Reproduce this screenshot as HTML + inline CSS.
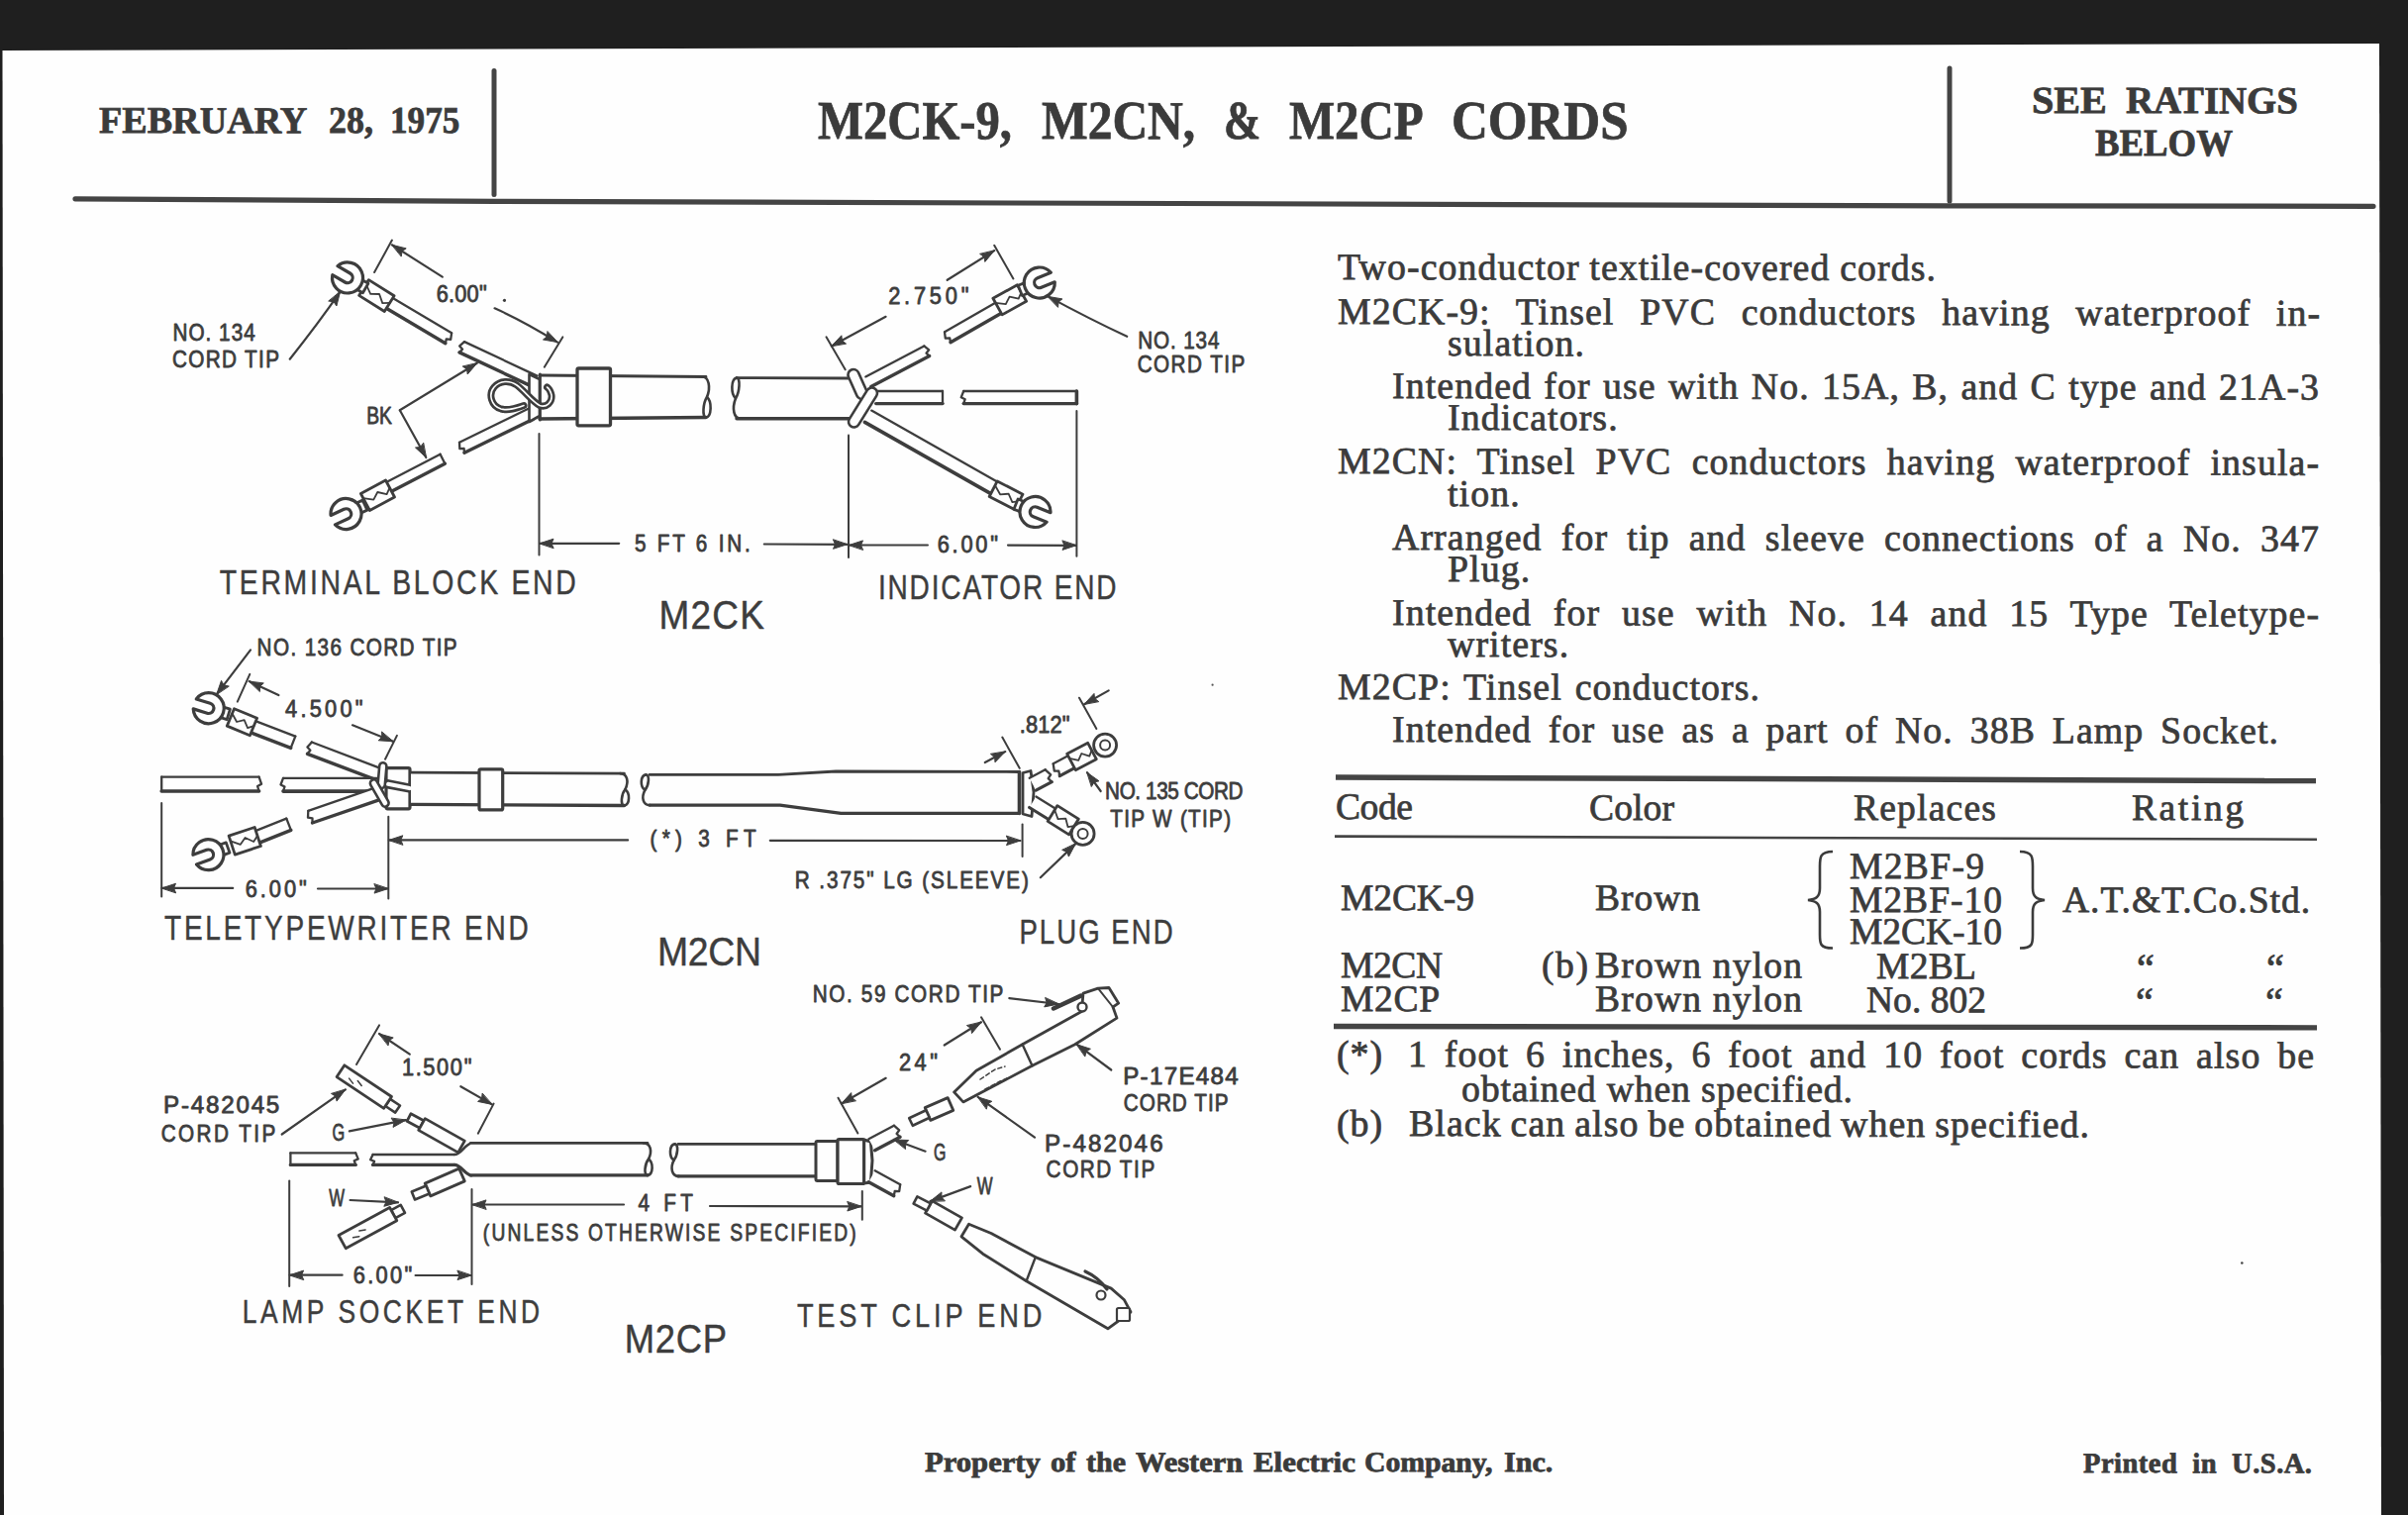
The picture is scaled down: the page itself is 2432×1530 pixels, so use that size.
<!DOCTYPE html>
<html><head><meta charset="utf-8"><style>
html,body{margin:0;padding:0;}
body{width:2432px;height:1530px;position:relative;overflow:hidden;background:#fefefe;}
.t{position:absolute;white-space:pre;line-height:1;font-family:"Liberation Serif",serif;color:#3b3b3b;transform:rotate(0.1deg);transform-origin:0 85%;-webkit-text-stroke:0.75px #3b3b3b;}
svg{position:absolute;left:0;top:0;}
</style></head><body>
<svg width="2432" height="1530" viewBox="0 0 2432 1530">
<g fill="#1f1f1f" stroke="none">
<polygon points="0,0 2432,0 2432,43 2403,43 2403,44 0,51"/>
<polygon points="2403,43 2432,43 2432,1530 2405,1530"/>
<polygon points="0,50 2.5,50 4,1530 0,1530"/>
</g>
<g stroke="#444" stroke-linecap="round" fill="none">
<polyline points="76,200.8 500,203.4 1969,207.9 2397,208.3" stroke-width="5.2"/>
<line x1="499" y1="71.5" x2="499" y2="196.5" stroke-width="5"/>
<line x1="1969" y1="69" x2="1969" y2="203" stroke-width="5"/>
<line x1="1349" y1="785" x2="2339" y2="788.6" stroke-width="5.5" stroke-linecap="butt"/>
<line x1="1348" y1="844.6" x2="2340" y2="847.7" stroke-width="2.6" stroke-linecap="butt"/>
<line x1="1347" y1="1036.5" x2="2340" y2="1037.8" stroke-width="5.3" stroke-linecap="butt"/>
</g>
<g stroke="#3b3b3b" fill="none" stroke-width="2.6">
<path d="M1851,860 C1838,860 1838,866 1838,875 L1838,897 C1838,906 1834,908 1826,909 C1834,910 1838,912 1838,921 L1838,944 C1838,953 1838,957.5 1851,957.5"/>
<path d="M2040,860 C2053,860 2053,866 2053,875 L2053,897 C2053,906 2057,908 2065,909 C2057,910 2053,912 2053,921 L2053,944 C2053,953 2053,957.5 2040,957.5"/>
</g>
<g stroke="#3d3d3d" fill="none" stroke-linecap="round" stroke-linejoin="round">
<polygon points="390.9,311.7 449.9,346.7 456.1,336.3 397.1,301.3" fill="#fefefe" stroke="none"/>
<line x1="390.9" y1="311.7" x2="449.9" y2="346.7" stroke-width="3.4" stroke-linecap="round"/>
<line x1="397.1" y1="301.3" x2="456.1" y2="336.3" stroke-width="2.3" stroke-linecap="round"/>
<polyline points="449.9,346.7 450.8,342.3 455.2,342.8 456.1,336.3" stroke-width="2.3" fill="none" stroke-linejoin="round"/>
<polygon points="362.6,298.4 388.3,314.5 398.1,298.7 372.4,282.6" stroke-width="2.8" fill="#fefefe" stroke-linejoin="round"/>
<polyline points="369.7,287.0 374.2,296.9 383.1,297.0 386.3,306.1 393.7,305.8" stroke-width="1.8" fill="none" stroke-linejoin="round"/>
<path transform="translate(351.0,280.5) rotate(210.0)" d="M-12.5,-5.5 L-21.0,-5.5 L-21.0,5.5 L-12.5,5.5" stroke-width="2.8000000000000003" fill="#fefefe" stroke-linejoin="round"/>
<path transform="translate(351.0,280.5) rotate(210.0)" d="M14.6,-5.2 A15.5,15.5 0 1 0 14.6,5.2 L0.0,5.2 A5.2,5.2 0 0 1 0.0,-5.2 Z" stroke-width="3.2" fill="#fefefe" stroke-linejoin="round"/>
<polygon points="464.0,355.9 537.5,390.4 542.5,379.6 469.0,345.1" fill="#fefefe" stroke="none"/>
<line x1="464.0" y1="355.9" x2="537.5" y2="390.4" stroke-width="3.4" stroke-linecap="round"/>
<line x1="469.0" y1="345.1" x2="542.5" y2="379.6" stroke-width="2.3" stroke-linecap="round"/>
<polyline points="464.0,355.9 467.1,352.8 464.2,349.4 469.0,345.1" stroke-width="2.3" fill="none" stroke-linejoin="round"/>
<polygon points="396.4,495.7 449.4,468.2 444.6,458.8 391.6,486.3" fill="#fefefe" stroke="none"/>
<line x1="396.4" y1="495.7" x2="449.4" y2="468.2" stroke-width="3.4" stroke-linecap="round"/>
<line x1="391.6" y1="486.3" x2="444.6" y2="458.8" stroke-width="2.3" stroke-linecap="round"/>
<line x1="449.4" y1="468.2" x2="444.6" y2="458.8" stroke-width="2.3" stroke-linecap="round"/>
<polygon points="373.4,515.5 398.5,502.0 389.5,485.0 364.4,498.5" stroke-width="2.8" fill="#fefefe" stroke-linejoin="round"/>
<polyline points="366.9,503.2 377.3,504.6 381.3,497.0 390.6,499.2 393.5,492.7" stroke-width="1.8" fill="none" stroke-linejoin="round"/>
<path transform="translate(349.5,519.0) rotate(155.0)" d="M-12.5,-5.5 L-21.0,-5.5 L-21.0,5.5 L-12.5,5.5" stroke-width="2.8000000000000003" fill="#fefefe" stroke-linejoin="round"/>
<path transform="translate(349.5,519.0) rotate(155.0)" d="M14.6,-5.2 A15.5,15.5 0 1 0 14.6,5.2 L0.0,5.2 A5.2,5.2 0 0 1 0.0,-5.2 Z" stroke-width="3.2" fill="#fefefe" stroke-linejoin="round"/>
<polygon points="469.0,457.2 538.5,423.2 533.5,412.8 464.0,446.8" fill="#fefefe" stroke="none"/>
<line x1="469.0" y1="457.2" x2="538.5" y2="423.2" stroke-width="3.4" stroke-linecap="round"/>
<line x1="464.0" y1="446.8" x2="533.5" y2="412.8" stroke-width="2.3" stroke-linecap="round"/>
<polyline points="469.0,457.2 468.6,452.9 464.3,453.1 464.0,446.8" stroke-width="2.3" fill="none" stroke-linejoin="round"/>
<polygon points="534.5,378.0 545.0,383.0 545.0,420.0 534.5,426.0" stroke-width="2.6" fill="#fefefe" stroke-linejoin="round"/>
<rect x="545" y="379" width="168" height="43" fill="#fefefe" stroke="none"/>
<line x1="545.0" y1="379.0" x2="713.0" y2="380.5" stroke-width="2.8" stroke-linecap="round"/>
<line x1="545.0" y1="423.0" x2="713.0" y2="421.5" stroke-width="3.4" stroke-linecap="round"/>
<line x1="545.4" y1="378.0" x2="545.4" y2="424.0" stroke-width="3" stroke-linecap="round"/>
<path d="M709.0,380.5 C716.0,380.5 718.0,390.8 714.0,401.0 C710.0,407.1 709.0,421.5 713.0,421.5" stroke-width="2.6" fill="none" />
<path d="M714.0,401.0 C719.0,405.1 719.0,420.5 713.0,421.5" stroke-width="2.6" fill="none" />
<rect x="583.0" y="372.0" width="33.5" height="57.8" rx="1.5" stroke-width="3.3" fill="#fefefe"/>
<path d="M529,409.5 C522,412 514,415 506,413 C496,410 493,398 499,391 C505,384 515,384 522,389 C530,395 537,405 545,409.5 C552,412 558,406 557,399 C556,395 554,392 552.5,391" stroke-width="7" fill="none"/>
<path d="M529,409.5 C522,412 514,415 506,413 C496,410 493,398 499,391 C505,384 515,384 522,389 C530,395 537,405 545,409.5 C552,412 558,406 557,399 C556,395 554,392 552.5,391" stroke="#fefefe" stroke-width="1.6" fill="none"/>
<rect x="744" y="381.5" width="114" height="41" fill="#fefefe" stroke="none"/>
<line x1="744.0" y1="381.6" x2="858.0" y2="382.0" stroke-width="2.8" stroke-linecap="round"/>
<line x1="744.0" y1="422.8" x2="858.0" y2="422.8" stroke-width="3.4" stroke-linecap="round"/>
<path d="M744.0,381.6 C738.0,382.6 738.0,398.1 743.0,402.2" stroke-width="2.6" fill="none" />
<path d="M744.0,381.6 C748.0,381.6 747.0,396.0 743.0,402.2 C739.0,412.5 741.0,422.8 748.0,422.8" stroke-width="2.6" fill="none" />
<line x1="378.1" y1="275.0" x2="395.9" y2="242.6" stroke-width="2" stroke-linecap="round"/>
<polyline points="446.8,279.6 395.9,247.3" stroke-width="2.2" fill="none" stroke-linejoin="round"/>
<polygon points="395.9,247.3 410.2,250.9 406.0,253.7 405.3,258.7" fill="#3d3d3d" stroke="#3d3d3d" stroke-width="1" stroke-linejoin="round"/>
<text transform="translate(440.8,304.7) scale(0.9500,1)" x="0" y="0" font-family="Liberation Sans" font-size="23" font-weight="400" fill="#3d3d3d" stroke="#3d3d3d" stroke-width="0.8" stroke-linejoin="round" style="letter-spacing:0.16px">6.00&quot;</text>
<circle cx="509.5" cy="303.3" r="1.6" fill="#3d3d3d" stroke="none"/>
<path d="M499.6,311.3 Q530,325 563,345.6" stroke-width="2.2" fill="none" />
<polygon points="563.0,345.6 548.5,343.0 552.4,339.9 552.9,334.9" fill="#3d3d3d" stroke="#3d3d3d" stroke-width="1" stroke-linejoin="round"/>
<line x1="549.8" y1="370.7" x2="568.3" y2="340.4" stroke-width="2" stroke-linecap="round"/>
<text transform="translate(174.5,343.6) scale(0.9000,1)" x="0" y="0" font-family="Liberation Sans" font-size="23" font-weight="400" fill="#3d3d3d" stroke="#3d3d3d" stroke-width="0.8" stroke-linejoin="round" style="letter-spacing:1.13px">NO. 134</text>
<text transform="translate(174.0,370.6) scale(0.9000,1)" x="0" y="0" font-family="Liberation Sans" font-size="23" font-weight="400" fill="#3d3d3d" stroke="#3d3d3d" stroke-width="0.8" stroke-linejoin="round" style="letter-spacing:1.50px">CORD TIP</text>
<path d="M292.7,362.7 Q322,326 343.5,294.7" stroke-width="2.2" fill="none" />
<polygon points="343.5,294.7 339.9,309.0 337.1,304.8 332.1,304.1" fill="#3d3d3d" stroke="#3d3d3d" stroke-width="1" stroke-linejoin="round"/>
<text transform="translate(370.2,427.5) scale(0.8375,1)" x="0" y="0" font-family="Liberation Sans" font-size="23" font-weight="400" fill="#3d3d3d" stroke="#3d3d3d" stroke-width="0.8" stroke-linejoin="round" style="letter-spacing:0.00px">BK</text>
<polyline points="403.8,414.3 481.8,366.8" stroke-width="2.2" fill="none" stroke-linejoin="round"/>
<polygon points="481.8,366.8 472.2,378.0 471.6,373.0 467.5,370.2" fill="#3d3d3d" stroke="#3d3d3d" stroke-width="1" stroke-linejoin="round"/>
<polyline points="403.8,414.3 430.3,462.0" stroke-width="2.2" fill="none" stroke-linejoin="round"/>
<polygon points="430.3,462.0 419.5,452.0 424.5,451.5 427.5,447.5" fill="#3d3d3d" stroke="#3d3d3d" stroke-width="1" stroke-linejoin="round"/>
<line x1="544.5" y1="438.0" x2="544.5" y2="560.4" stroke-width="2" stroke-linecap="round"/>
<polyline points="625.2,548.8 545.0,548.8" stroke-width="2.2" fill="none" stroke-linejoin="round"/>
<polygon points="545.0,548.8 559.0,544.2 557.0,548.8 559.0,553.4" fill="#3d3d3d" stroke="#3d3d3d" stroke-width="1" stroke-linejoin="round"/>
<text transform="translate(641.0,556.5) scale(0.9000,1)" x="0" y="0" font-family="Liberation Sans" font-size="23" font-weight="400" fill="#3d3d3d" stroke="#3d3d3d" stroke-width="0.8" stroke-linejoin="round" style="letter-spacing:3.09px">5 FT 6 IN.</text>
<polyline points="771.8,549.5 855.5,549.8" stroke-width="2.2" fill="none" stroke-linejoin="round"/>
<polygon points="855.5,549.8 841.5,554.3 843.5,549.8 841.5,545.1" fill="#3d3d3d" stroke="#3d3d3d" stroke-width="1" stroke-linejoin="round"/>
<line x1="857.0" y1="439.6" x2="857.0" y2="563.0" stroke-width="2" stroke-linecap="round"/>
<polygon points="873.4,426.4 999.9,498.1 1006.7,486.3 880.2,414.6" fill="#fefefe" stroke="none"/>
<line x1="873.4" y1="426.4" x2="999.9" y2="498.1" stroke-width="3.6" stroke-linecap="round"/>
<line x1="880.2" y1="414.6" x2="1006.7" y2="486.3" stroke-width="2.3" stroke-linecap="round"/>
<polygon points="999.2,501.5 1025.0,514.8 1033.0,499.2 1007.2,485.9" stroke-width="2.8" fill="#fefefe" stroke-linejoin="round"/>
<polyline points="1005.0,490.2 1010.1,499.3 1018.6,498.7 1022.4,507.1 1029.4,506.2" stroke-width="1.8" fill="none" stroke-linejoin="round"/>
<path transform="translate(1045.5,517.0) rotate(22.0)" d="M-12.5,-5.5 L-21.0,-5.5 L-21.0,5.5 L-12.5,5.5" stroke-width="2.8000000000000003" fill="#fefefe" stroke-linejoin="round"/>
<path transform="translate(1045.5,517.0) rotate(22.0)" d="M14.6,-5.2 A15.5,15.5 0 1 0 14.6,5.2 L0.0,5.2 A5.2,5.2 0 0 1 0.0,-5.2 Z" stroke-width="3.2" fill="#fefefe" stroke-linejoin="round"/>
<polygon points="879.7,390.6 938.7,359.6 933.3,349.4 874.3,380.4" fill="#fefefe" stroke="none"/>
<line x1="879.7" y1="390.6" x2="938.7" y2="359.6" stroke-width="3.4" stroke-linecap="round"/>
<line x1="874.3" y1="380.4" x2="933.3" y2="349.4" stroke-width="2.3" stroke-linecap="round"/>
<polyline points="938.7,359.6 935.5,356.7 938.2,353.3 933.3,349.4" stroke-width="2.3" fill="none" stroke-linejoin="round"/>
<polygon points="960.0,345.7 1010.5,316.7 1004.5,306.3 954.0,335.3" fill="#fefefe" stroke="none"/>
<line x1="960.0" y1="345.7" x2="1010.5" y2="316.7" stroke-width="3.4" stroke-linecap="round"/>
<line x1="954.0" y1="335.3" x2="1004.5" y2="306.3" stroke-width="2.3" stroke-linecap="round"/>
<polyline points="960.0,345.7 959.2,341.3 954.8,341.7 954.0,335.3" stroke-width="2.3" fill="none" stroke-linejoin="round"/>
<polygon points="1012.1,317.9 1036.6,304.3 1027.4,287.7 1002.9,301.3" stroke-width="2.8" fill="#fefefe" stroke-linejoin="round"/>
<polyline points="1005.4,305.9 1015.8,307.2 1019.6,299.6 1028.7,301.6 1031.5,295.2" stroke-width="1.8" fill="none" stroke-linejoin="round"/>
<path transform="translate(1049.8,285.5) rotate(-22.0)" d="M-12.5,-5.5 L-21.0,-5.5 L-21.0,5.5 L-12.5,5.5" stroke-width="2.8000000000000003" fill="#fefefe" stroke-linejoin="round"/>
<path transform="translate(1049.8,285.5) rotate(-22.0)" d="M14.6,-5.2 A15.5,15.5 0 1 0 14.6,5.2 L0.0,5.2 A5.2,5.2 0 0 1 0.0,-5.2 Z" stroke-width="3.2" fill="#fefefe" stroke-linejoin="round"/>
<polygon points="884.7,407.6 952.0,407.6 952.0,395.0 884.7,395.0" fill="#fefefe" stroke="none"/>
<line x1="884.7" y1="407.6" x2="952.0" y2="407.6" stroke-width="3.4" stroke-linecap="round"/>
<line x1="884.7" y1="395.0" x2="952.0" y2="395.0" stroke-width="2.3" stroke-linecap="round"/>
<line x1="952.0" y1="407.6" x2="952.0" y2="395.0" stroke-width="2.3" stroke-linecap="round"/>
<polygon points="973.2,407.6 1087.4,407.6 1087.4,395.0 973.2,395.0" fill="#fefefe" stroke="none"/>
<line x1="973.2" y1="407.6" x2="1087.4" y2="407.6" stroke-width="3.4" stroke-linecap="round"/>
<line x1="973.2" y1="395.0" x2="1087.4" y2="395.0" stroke-width="2.3" stroke-linecap="round"/>
<polyline points="973.2,407.6 974.7,403.2 970.7,401.3 973.2,395.0" stroke-width="2.3" fill="none" stroke-linejoin="round"/>
<line x1="1087.4" y1="407.6" x2="1087.4" y2="395.0" stroke-width="2.3" stroke-linecap="round"/>
<line x1="1087.4" y1="395.0" x2="1087.4" y2="407.6" stroke-width="3.6" stroke-linecap="round"/>
<line x1="862.0" y1="378.5" x2="870.5" y2="397.5" stroke-width="13.6" stroke-linecap="round"/>
<line x1="862.0" y1="378.5" x2="870.5" y2="397.5" stroke="#fefefe" stroke-width="8.4" stroke-linecap="round"/>
<line x1="880.5" y1="397.0" x2="862.5" y2="426.0" stroke-width="13.6" stroke-linecap="round"/>
<line x1="880.5" y1="397.0" x2="862.5" y2="426.0" stroke="#fefefe" stroke-width="8.4" stroke-linecap="round"/>
<line x1="834.5" y1="340.3" x2="853.7" y2="373.3" stroke-width="2" stroke-linecap="round"/>
<polyline points="894.6,319.8 839.8,349.5" stroke-width="2.2" fill="none" stroke-linejoin="round"/>
<polygon points="839.8,349.5 849.9,338.8 850.4,343.8 854.3,346.9" fill="#3d3d3d" stroke="#3d3d3d" stroke-width="1" stroke-linejoin="round"/>
<text transform="translate(897.2,307.2) scale(0.9500,1)" x="0" y="0" font-family="Liberation Sans" font-size="23" font-weight="400" fill="#3d3d3d" stroke="#3d3d3d" stroke-width="0.8" stroke-linejoin="round" style="letter-spacing:3.97px">2.750&quot;</text>
<polyline points="956.7,282.8 1004.2,253.1" stroke-width="2.2" fill="none" stroke-linejoin="round"/>
<polygon points="1004.2,253.1 994.8,264.4 994.0,259.5 989.9,256.6" fill="#3d3d3d" stroke="#3d3d3d" stroke-width="1" stroke-linejoin="round"/>
<line x1="1004.2" y1="247.8" x2="1023.4" y2="281.5" stroke-width="2" stroke-linecap="round"/>
<text transform="translate(1149.2,352.2) scale(0.9000,1)" x="0" y="0" font-family="Liberation Sans" font-size="23" font-weight="400" fill="#3d3d3d" stroke="#3d3d3d" stroke-width="0.8" stroke-linejoin="round" style="letter-spacing:0.95px">NO. 134</text>
<text transform="translate(1148.7,376.1) scale(0.9000,1)" x="0" y="0" font-family="Liberation Sans" font-size="23" font-weight="400" fill="#3d3d3d" stroke="#3d3d3d" stroke-width="0.8" stroke-linejoin="round" style="letter-spacing:1.60px">CORD TIP</text>
<path d="M1138.2,339.8 Q1100,322 1058.4,299.4" stroke-width="2.2" fill="none" />
<polygon points="1058.4,299.4 1072.9,301.9 1069.0,305.0 1068.6,310.0" fill="#3d3d3d" stroke="#3d3d3d" stroke-width="1" stroke-linejoin="round"/>
<polyline points="936.9,550.5 857.5,550.5" stroke-width="2.2" fill="none" stroke-linejoin="round"/>
<polygon points="857.5,550.5 871.5,545.9 869.5,550.5 871.5,555.1" fill="#3d3d3d" stroke="#3d3d3d" stroke-width="1" stroke-linejoin="round"/>
<text transform="translate(946.7,557.8) scale(0.9500,1)" x="0" y="0" font-family="Liberation Sans" font-size="23" font-weight="400" fill="#3d3d3d" stroke="#3d3d3d" stroke-width="0.8" stroke-linejoin="round" style="letter-spacing:2.90px">6.00&quot;</text>
<polyline points="1018.0,550.6 1087.0,550.8" stroke-width="2.2" fill="none" stroke-linejoin="round"/>
<polygon points="1087.0,550.8 1073.0,555.4 1075.0,550.8 1073.0,546.2" fill="#3d3d3d" stroke="#3d3d3d" stroke-width="1" stroke-linejoin="round"/>
<line x1="1087.4" y1="415.0" x2="1087.4" y2="561.8" stroke-width="2" stroke-linecap="round"/>
<text transform="translate(221.8,600.1) scale(0.8000,1)" x="0" y="0" font-family="Liberation Sans" font-size="35.5" font-weight="400" fill="#3d3d3d" stroke="#3d3d3d" stroke-width="0.45" stroke-linejoin="round" style="letter-spacing:3.35px">TERMINAL BLOCK END</text>
<text transform="translate(886.9,605.2) scale(0.8000,1)" x="0" y="0" font-family="Liberation Sans" font-size="35" font-weight="400" fill="#3d3d3d" stroke="#3d3d3d" stroke-width="0.45" stroke-linejoin="round" style="letter-spacing:2.33px">INDICATOR END</text>
<text transform="translate(665.6,635.1) scale(0.9000,1)" x="0" y="0" font-family="Liberation Sans" font-size="41" font-weight="400" fill="#3d3d3d" stroke="#3d3d3d" stroke-width="0.45" stroke-linejoin="round" style="letter-spacing:1.36px">M2CK</text>
<text transform="translate(259.6,662.4) scale(0.9000,1)" x="0" y="0" font-family="Liberation Sans" font-size="23" font-weight="400" fill="#3d3d3d" stroke="#3d3d3d" stroke-width="0.8" stroke-linejoin="round" style="letter-spacing:1.53px">NO. 136 CORD TIP</text>
<polyline points="253.0,656.4 218.7,701.3" stroke-width="2.2" fill="none" stroke-linejoin="round"/>
<polygon points="218.7,701.3 223.5,687.4 226.0,691.8 230.9,693.0" fill="#3d3d3d" stroke="#3d3d3d" stroke-width="1" stroke-linejoin="round"/>
<polygon points="254.0,740.2 293.7,755.4 298.3,743.6 258.6,728.4" fill="#fefefe" stroke="none"/>
<line x1="254.0" y1="740.2" x2="293.7" y2="755.4" stroke-width="3.4" stroke-linecap="round"/>
<line x1="258.6" y1="728.4" x2="298.3" y2="743.6" stroke-width="2.3" stroke-linecap="round"/>
<line x1="293.7" y1="755.4" x2="298.3" y2="743.6" stroke-width="2.3" stroke-linecap="round"/>
<polygon points="229.3,733.1 252.4,742.7 259.6,725.3 236.5,715.7" stroke-width="2.8" fill="#fefefe" stroke-linejoin="round"/>
<polyline points="234.5,720.5 239.1,729.0 246.7,727.1 250.1,735.1 256.4,733.1" stroke-width="1.8" fill="none" stroke-linejoin="round"/>
<path transform="translate(210.7,715.2) rotate(197.0)" d="M-12.5,-5.5 L-21.0,-5.5 L-21.0,5.5 L-12.5,5.5" stroke-width="2.8000000000000003" fill="#fefefe" stroke-linejoin="round"/>
<path transform="translate(210.7,715.2) rotate(197.0)" d="M14.6,-5.2 A15.5,15.5 0 1 0 14.6,5.2 L0.0,5.2 A5.2,5.2 0 0 1 0.0,-5.2 Z" stroke-width="3.2" fill="#fefefe" stroke-linejoin="round"/>
<line x1="239.8" y1="708.6" x2="252.3" y2="680.8" stroke-width="2" stroke-linecap="round"/>
<polyline points="281.4,702.0 251.7,688.1" stroke-width="2.2" fill="none" stroke-linejoin="round"/>
<polygon points="251.7,688.1 266.3,689.9 262.6,693.2 262.4,698.2" fill="#3d3d3d" stroke="#3d3d3d" stroke-width="1" stroke-linejoin="round"/>
<text transform="translate(288.0,723.8) scale(0.9500,1)" x="0" y="0" font-family="Liberation Sans" font-size="23" font-weight="400" fill="#3d3d3d" stroke="#3d3d3d" stroke-width="0.8" stroke-linejoin="round" style="letter-spacing:3.40px">4.500&quot;</text>
<polyline points="356.0,732.3 396.9,748.8" stroke-width="2.2" fill="none" stroke-linejoin="round"/>
<polygon points="396.9,748.8 382.2,747.8 385.8,744.3 385.6,739.3" fill="#3d3d3d" stroke="#3d3d3d" stroke-width="1" stroke-linejoin="round"/>
<line x1="389.0" y1="766.7" x2="400.9" y2="742.9" stroke-width="2" stroke-linecap="round"/>
<polygon points="310.5,761.3 377.8,786.9 382.2,775.1 314.9,749.5" fill="#fefefe" stroke="none"/>
<line x1="310.5" y1="761.3" x2="377.8" y2="786.9" stroke-width="3.4" stroke-linecap="round"/>
<line x1="314.9" y1="749.5" x2="382.2" y2="775.1" stroke-width="2.3" stroke-linecap="round"/>
<polyline points="310.5,761.3 313.4,757.7 310.4,754.5 314.9,749.5" stroke-width="2.3" fill="none" stroke-linejoin="round"/>
<polygon points="163.2,799.0 261.6,799.0 261.6,784.6 163.2,784.6" fill="#fefefe" stroke="none"/>
<line x1="163.2" y1="799.0" x2="261.6" y2="799.0" stroke-width="3.6" stroke-linecap="round"/>
<line x1="163.2" y1="784.6" x2="261.6" y2="784.6" stroke-width="2.3" stroke-linecap="round"/>
<line x1="163.2" y1="799.0" x2="163.2" y2="784.6" stroke-width="2.3" stroke-linecap="round"/>
<polyline points="261.6,799.0 260.1,794.0 264.1,791.8 261.6,784.6" stroke-width="2.3" fill="none" stroke-linejoin="round"/>
<polygon points="286.0,799.1 382.0,799.1 382.0,785.9 286.0,785.9" fill="#fefefe" stroke="none"/>
<line x1="286.0" y1="799.1" x2="382.0" y2="799.1" stroke-width="3.6" stroke-linecap="round"/>
<line x1="286.0" y1="785.9" x2="382.0" y2="785.9" stroke-width="2.3" stroke-linecap="round"/>
<polyline points="286.0,799.1 287.5,794.5 283.5,792.5 286.0,785.9" stroke-width="2.3" fill="none" stroke-linejoin="round"/>
<polygon points="315.5,831.0 382.1,808.1 377.9,795.9 311.3,818.8" fill="#fefefe" stroke="none"/>
<line x1="315.5" y1="831.0" x2="382.1" y2="808.1" stroke-width="3.4" stroke-linecap="round"/>
<line x1="311.3" y1="818.8" x2="377.9" y2="795.9" stroke-width="2.3" stroke-linecap="round"/>
<polyline points="315.5,831.0 315.5,826.3 311.0,825.7 311.3,818.8" stroke-width="2.3" fill="none" stroke-linejoin="round"/>
<polygon points="289.3,826.6 258.0,839.1 262.6,850.9 293.9,838.4" fill="#fefefe" stroke="none"/>
<line x1="289.3" y1="826.6" x2="258.0" y2="839.1" stroke-width="2.3" stroke-linecap="round"/>
<line x1="293.9" y1="838.4" x2="262.6" y2="850.9" stroke-width="3.4" stroke-linecap="round"/>
<line x1="289.3" y1="826.6" x2="293.9" y2="838.4" stroke-width="2.3" stroke-linecap="round"/>
<polygon points="237.3,863.1 263.4,854.5 257.2,835.5 231.1,844.1" stroke-width="2.8" fill="#fefefe" stroke-linejoin="round"/>
<polyline points="232.8,849.3 242.7,852.9 247.6,846.0 256.2,850.0 260.0,844.1" stroke-width="1.8" fill="none" stroke-linejoin="round"/>
<path transform="translate(210.4,863.2) rotate(160.0)" d="M-12.5,-5.5 L-21.0,-5.5 L-21.0,5.5 L-12.5,5.5" stroke-width="2.8000000000000003" fill="#fefefe" stroke-linejoin="round"/>
<path transform="translate(210.4,863.2) rotate(160.0)" d="M14.6,-5.2 A15.5,15.5 0 1 0 14.6,5.2 L0.0,5.2 A5.2,5.2 0 0 1 0.0,-5.2 Z" stroke-width="3.2" fill="#fefefe" stroke-linejoin="round"/>
<rect x="390.0" y="775.7" width="24.0" height="41.1" rx="1.5" stroke-width="3.2" fill="#fefefe"/>
<path d="M414,790 Q419,793 414,799" stroke-width="3" fill="none" />
<line x1="392.0" y1="791.8" x2="413.5" y2="796.0" stroke-width="9.4" stroke-linecap="round"/>
<line x1="392.0" y1="791.8" x2="413.5" y2="796.0" stroke="#fefefe" stroke-width="4.199999999999999" stroke-linecap="round"/>
<line x1="386.8" y1="773.8" x2="385.2" y2="792.5" stroke-width="9.8" stroke-linecap="round"/>
<line x1="386.8" y1="773.8" x2="385.2" y2="792.5" stroke="#fefefe" stroke-width="4.6" stroke-linecap="round"/>
<line x1="377.5" y1="791.0" x2="389.0" y2="811.0" stroke-width="9.8" stroke-linecap="round"/>
<line x1="377.5" y1="791.0" x2="389.0" y2="811.0" stroke="#fefefe" stroke-width="4.6" stroke-linecap="round"/>
<rect x="415" y="780" width="215.4" height="32.6" fill="#fefefe" stroke="none"/>
<line x1="415.0" y1="780.1" x2="630.4" y2="781.1" stroke-width="2.8" stroke-linecap="round"/>
<line x1="415.0" y1="812.3" x2="630.4" y2="813.5" stroke-width="3.3" stroke-linecap="round"/>
<path d="M626.4,781.1 C633.4,781.1 635.4,789.2 631.4,797.3 C627.4,802.2 626.4,813.5 630.4,813.5" stroke-width="2.6" fill="none" />
<path d="M631.4,797.3 C636.4,800.5 636.4,812.5 630.4,813.5" stroke-width="2.6" fill="none" />
<rect x="484.0" y="776.8" width="23.7" height="41.1" rx="1.5" stroke-width="3.2" fill="#fefefe"/>
<polygon points="652.4,782.4 786,782.4 844.3,779 1028.7,779 1028.7,821.4 849.3,821.4 787.8,813.1 652.4,813.1" fill="#fefefe" stroke="none"/>
<polyline points="656.0,782.4 786.0,782.4 844.3,779.0 1028.7,779.5" stroke-width="2.8" fill="none" stroke-linejoin="round"/>
<polyline points="656.0,813.1 787.8,813.1 849.3,821.4 1028.7,821.4" stroke-width="3.3" fill="none" stroke-linejoin="round"/>
<path d="M652.4,782.4 C646.4,783.4 646.4,794.7 651.4,797.8" stroke-width="2.6" fill="none" />
<path d="M652.4,782.4 C656.4,782.4 655.4,793.1 651.4,797.8 C647.4,805.4 649.4,813.1 656.4,813.1" stroke-width="2.6" fill="none" />
<line x1="1029.5" y1="779.5" x2="1029.5" y2="821.4" stroke-width="3.6" stroke-linecap="round"/>
<polygon points="1033.0,780.5 1041.0,778.5 1044.0,800.0 1042.0,824.5 1033.0,822.0" stroke-width="2.8" fill="#fefefe" stroke-linejoin="round"/>
<polygon points="1046.3,798.2 1062.3,789.7 1055.7,777.3 1039.7,785.8" fill="#fefefe" stroke="none"/>
<line x1="1046.3" y1="798.2" x2="1062.3" y2="789.7" stroke-width="3.2" stroke-linecap="round"/>
<line x1="1039.7" y1="785.8" x2="1055.7" y2="777.3" stroke-width="2.3" stroke-linecap="round"/>
<polyline points="1062.3,789.7 1058.7,786.1 1061.2,782.3 1055.7,777.3" stroke-width="2.3" fill="none" stroke-linejoin="round"/>
<polygon points="1070.3,783.7 1085.3,775.7 1078.7,763.3 1063.7,771.3" fill="#fefefe" stroke="none"/>
<line x1="1070.3" y1="783.7" x2="1085.3" y2="775.7" stroke-width="3.2" stroke-linecap="round"/>
<line x1="1063.7" y1="771.3" x2="1078.7" y2="763.3" stroke-width="2.3" stroke-linecap="round"/>
<polyline points="1070.3,783.7 1069.3,778.6 1064.8,778.7 1063.7,771.3" stroke-width="2.3" fill="none" stroke-linejoin="round"/>
<polygon points="1086.3,777.7 1107.3,766.7 1098.7,750.3 1077.7,761.3" stroke-width="2.8" fill="#fefefe" stroke-linejoin="round"/>
<polyline points="1080.1,765.8 1089.2,767.8 1092.3,761.0 1100.3,763.6 1102.6,757.7" stroke-width="1.8" fill="none" stroke-linejoin="round"/>
<circle cx="1116.1" cy="752.6" r="11.5" stroke-width="2.8" fill="#fefefe"/>
<circle cx="1116.1" cy="752.6" r="5" stroke-width="2" fill="#fefefe"/>
<polygon points="1039.6,815.5 1060.6,828.5 1067.4,817.5 1046.4,804.5" fill="#fefefe" stroke="none"/>
<line x1="1039.6" y1="815.5" x2="1060.6" y2="828.5" stroke-width="3.2" stroke-linecap="round"/>
<line x1="1046.4" y1="804.5" x2="1067.4" y2="817.5" stroke-width="2.3" stroke-linecap="round"/>
<polygon points="1058.1,829.4 1079.6,842.9 1089.4,827.1 1067.9,813.6" stroke-width="2.8" fill="#fefefe" stroke-linejoin="round"/>
<polyline points="1065.2,818.0 1068.5,827.1 1076.3,826.6 1078.5,835.1 1085.0,834.2" stroke-width="1.8" fill="none" stroke-linejoin="round"/>
<circle cx="1093.6" cy="841.9" r="11.5" stroke-width="2.8" fill="#fefefe"/>
<circle cx="1093.6" cy="841.9" r="5" stroke-width="2" fill="#fefefe"/>
<text transform="translate(1029.7,739.5) scale(0.9500,1)" x="0" y="0" font-family="Liberation Sans" font-size="23" font-weight="400" fill="#3d3d3d" stroke="#3d3d3d" stroke-width="0.8" stroke-linejoin="round" style="letter-spacing:0.13px">.812&quot;</text>
<line x1="1012.3" y1="744.6" x2="1029.7" y2="775.8" stroke-width="2" stroke-linecap="round"/>
<polyline points="994.8,770.0 1015.2,759.1" stroke-width="2.2" fill="none" stroke-linejoin="round"/>
<polygon points="1015.2,759.1 1005.0,769.8 1004.6,764.8 1000.7,761.6" fill="#3d3d3d" stroke="#3d3d3d" stroke-width="1" stroke-linejoin="round"/>
<line x1="1090.0" y1="704.7" x2="1107.4" y2="735.9" stroke-width="2" stroke-linecap="round"/>
<polyline points="1119.7,697.4 1095.0,711.2" stroke-width="2.2" fill="none" stroke-linejoin="round"/>
<polygon points="1095.0,711.2 1105.0,700.4 1105.5,705.3 1109.5,708.4" fill="#3d3d3d" stroke="#3d3d3d" stroke-width="1" stroke-linejoin="round"/>
<text transform="translate(1116.1,807.0) scale(0.9000,1)" x="0" y="0" font-family="Liberation Sans" font-size="23" font-weight="400" fill="#3d3d3d" stroke="#3d3d3d" stroke-width="0.8" stroke-linejoin="round" style="letter-spacing:-0.44px">NO. 135 CORD</text>
<text transform="translate(1121.2,835.4) scale(0.9000,1)" x="0" y="0" font-family="Liberation Sans" font-size="23" font-weight="400" fill="#3d3d3d" stroke="#3d3d3d" stroke-width="0.8" stroke-linejoin="round" style="letter-spacing:1.45px">TIP W (TIP)</text>
<polyline points="1111.7,799.0 1098.0,780.2" stroke-width="2.2" fill="none" stroke-linejoin="round"/>
<polygon points="1098.0,780.2 1110.0,788.8 1105.1,789.9 1102.5,794.2" fill="#3d3d3d" stroke="#3d3d3d" stroke-width="1" stroke-linejoin="round"/>
<text transform="translate(802.8,897.0) scale(0.9000,1)" x="0" y="0" font-family="Liberation Sans" font-size="23" font-weight="400" fill="#3d3d3d" stroke="#3d3d3d" stroke-width="0.8" stroke-linejoin="round" style="letter-spacing:2.12px">R .375&quot; LG (SLEEVE)</text>
<polyline points="1050.8,886.2 1086.3,852.1" stroke-width="2.2" fill="none" stroke-linejoin="round"/>
<polygon points="1086.3,852.1 1079.4,865.1 1077.6,860.4 1073.0,858.5" fill="#3d3d3d" stroke="#3d3d3d" stroke-width="1" stroke-linejoin="round"/>
<line x1="163.2" y1="811.0" x2="163.2" y2="905.4" stroke-width="2" stroke-linecap="round"/>
<line x1="392.3" y1="824.8" x2="392.3" y2="907.4" stroke-width="2" stroke-linecap="round"/>
<polyline points="235.2,896.9 163.5,896.9" stroke-width="2.2" fill="none" stroke-linejoin="round"/>
<polygon points="163.5,896.9 177.5,892.3 175.5,896.9 177.5,901.5" fill="#3d3d3d" stroke="#3d3d3d" stroke-width="1" stroke-linejoin="round"/>
<text transform="translate(247.7,906.1) scale(0.9500,1)" x="0" y="0" font-family="Liberation Sans" font-size="23" font-weight="400" fill="#3d3d3d" stroke="#3d3d3d" stroke-width="0.8" stroke-linejoin="round" style="letter-spacing:3.11px">6.00&quot;</text>
<polyline points="321.0,897.5 392.0,897.5" stroke-width="2.2" fill="none" stroke-linejoin="round"/>
<polygon points="392.0,897.5 378.0,902.1 380.0,897.5 378.0,892.9" fill="#3d3d3d" stroke="#3d3d3d" stroke-width="1" stroke-linejoin="round"/>
<polyline points="634.1,848.4 392.8,848.4" stroke-width="2.2" fill="none" stroke-linejoin="round"/>
<polygon points="392.8,848.4 406.8,843.8 404.8,848.4 406.8,853.0" fill="#3d3d3d" stroke="#3d3d3d" stroke-width="1" stroke-linejoin="round"/>
<text transform="translate(656.6,854.6) scale(0.9000,1)" x="0" y="0" font-family="Liberation Sans" font-size="23" font-weight="400" fill="#3d3d3d" stroke="#3d3d3d" stroke-width="0.8" stroke-linejoin="round" style="letter-spacing:5.86px">(*) 3 FT</text>
<polyline points="777.8,848.8 1030.5,849.0" stroke-width="2.2" fill="none" stroke-linejoin="round"/>
<polygon points="1030.5,849.0 1016.5,853.6 1018.5,849.0 1016.5,844.4" fill="#3d3d3d" stroke="#3d3d3d" stroke-width="1" stroke-linejoin="round"/>
<line x1="1032.6" y1="832.5" x2="1032.6" y2="865.1" stroke-width="2" stroke-linecap="round"/>
<text transform="translate(166.0,949.3) scale(0.8000,1)" x="0" y="0" font-family="Liberation Sans" font-size="35" font-weight="400" fill="#3d3d3d" stroke="#3d3d3d" stroke-width="0.45" stroke-linejoin="round" style="letter-spacing:3.47px">TELETYPEWRITER END</text>
<text transform="translate(664.0,974.5) scale(0.9000,1)" x="0" y="0" font-family="Liberation Sans" font-size="41.5" font-weight="400" fill="#3d3d3d" stroke="#3d3d3d" stroke-width="0.45" stroke-linejoin="round" style="letter-spacing:-0.31px">M2CN</text>
<text transform="translate(1029.4,953.4) scale(0.8000,1)" x="0" y="0" font-family="Liberation Sans" font-size="34.5" font-weight="400" fill="#3d3d3d" stroke="#3d3d3d" stroke-width="0.45" stroke-linejoin="round" style="letter-spacing:2.54px">PLUG END</text>
<text transform="translate(165.0,1124.1) scale(1.0500,1)" x="0" y="0" font-family="Liberation Sans" font-size="23" font-weight="400" fill="#3d3d3d" stroke="#3d3d3d" stroke-width="0.8" stroke-linejoin="round" style="letter-spacing:1.71px">P-482045</text>
<text transform="translate(162.7,1152.6) scale(0.9000,1)" x="0" y="0" font-family="Liberation Sans" font-size="23" font-weight="400" fill="#3d3d3d" stroke="#3d3d3d" stroke-width="0.8" stroke-linejoin="round" style="letter-spacing:2.71px">CORD TIP</text>
<polyline points="284.7,1145.5 348.9,1100.3" stroke-width="2.2" fill="none" stroke-linejoin="round"/>
<polygon points="348.9,1100.3 340.1,1112.1 339.1,1107.2 334.8,1104.6" fill="#3d3d3d" stroke="#3d3d3d" stroke-width="1" stroke-linejoin="round"/>
<polygon points="389.2,1117.0 399.2,1123.6 404.0,1116.5 394.0,1109.8" stroke-width="2.6" fill="#fefefe" stroke-linejoin="round"/>
<polygon points="340.1,1087.6 387.7,1119.3 395.5,1107.5 347.9,1075.8" stroke-width="2.8" fill="#fefefe" stroke-linejoin="round"/>
<line x1="352.6" y1="1089.1" x2="356.5" y2="1094.1" stroke-width="1.5" stroke-linecap="round"/>
<line x1="361.3" y1="1091.5" x2="365.2" y2="1096.5" stroke-width="1.5" stroke-linecap="round"/>
<text transform="translate(335.4,1151.8) scale(0.7099,1)" x="0" y="0" font-family="Liberation Sans" font-size="23" font-weight="400" fill="#3d3d3d" stroke="#3d3d3d" stroke-width="0.8" stroke-linejoin="round" style="letter-spacing:0.00px">G</text>
<polyline points="352.8,1142.3 409.9,1131.2" stroke-width="2.2" fill="none" stroke-linejoin="round"/>
<polygon points="409.9,1131.2 397.0,1138.4 398.1,1133.5 395.3,1129.4" fill="#3d3d3d" stroke="#3d3d3d" stroke-width="1" stroke-linejoin="round"/>
<polygon points="428.0,1131.7 415.0,1124.7 411.0,1132.3 424.0,1139.3" stroke-width="2.8" fill="#fefefe" stroke-linejoin="round"/>
<polygon points="422.7,1141.4 462.7,1163.9 469.3,1152.1 429.3,1129.6" stroke-width="2.8" fill="#fefefe" stroke-linejoin="round"/>
<polygon points="293.4,1176.4 359.2,1176.4 359.2,1164.4 293.4,1164.4" fill="#fefefe" stroke="none"/>
<line x1="293.4" y1="1176.4" x2="359.2" y2="1176.4" stroke-width="3.4" stroke-linecap="round"/>
<line x1="293.4" y1="1164.4" x2="359.2" y2="1164.4" stroke-width="2.3" stroke-linecap="round"/>
<line x1="293.4" y1="1176.4" x2="293.4" y2="1164.4" stroke-width="2.3" stroke-linecap="round"/>
<polyline points="359.2,1176.4 357.7,1172.2 361.7,1170.4 359.2,1164.4" stroke-width="2.3" fill="none" stroke-linejoin="round"/>
<polygon points="376.6,1176.4 459.0,1176.4 459.0,1166.0 376.6,1166.0" fill="#fefefe" stroke="none"/>
<line x1="376.6" y1="1176.4" x2="459.0" y2="1176.4" stroke-width="3.4" stroke-linecap="round"/>
<line x1="376.6" y1="1166.0" x2="459.0" y2="1166.0" stroke-width="2.3" stroke-linecap="round"/>
<polyline points="376.6,1176.4 378.1,1172.8 374.1,1171.2 376.6,1166.0" stroke-width="2.3" fill="none" stroke-linejoin="round"/>
<path d="M459,1166 C466,1166 469,1156 476,1154.5" stroke-width="2.6" fill="none" />
<path d="M459,1176.4 C466,1176.4 469,1186 476,1187" stroke-width="3.2" fill="none" />
<rect x="475.3" y="1154.4" width="178.7" height="32.5" fill="#fefefe" stroke="none"/>
<line x1="475.3" y1="1154.4" x2="654.0" y2="1154.4" stroke-width="2.8" stroke-linecap="round"/>
<line x1="475.3" y1="1186.9" x2="654.0" y2="1186.9" stroke-width="3.3" stroke-linecap="round"/>
<path d="M650.0,1154.4 C657.0,1154.4 659.0,1162.5 655.0,1170.7 C651.0,1175.5 650.0,1186.9 654.0,1186.9" stroke-width="2.6" fill="none" />
<path d="M655.0,1170.7 C660.0,1173.9 660.0,1185.9 654.0,1186.9" stroke-width="2.6" fill="none" />
<rect x="681.6" y="1155.4" width="142.4" height="32.5" fill="#fefefe" stroke="none"/>
<line x1="685.0" y1="1155.4" x2="824.0" y2="1155.4" stroke-width="2.8" stroke-linecap="round"/>
<line x1="685.0" y1="1187.9" x2="824.0" y2="1187.9" stroke-width="3.3" stroke-linecap="round"/>
<path d="M681.6,1155.4 C675.6,1156.4 675.6,1168.4 680.6,1171.7" stroke-width="2.6" fill="none" />
<path d="M681.6,1155.4 C685.6,1155.4 684.6,1166.8 680.6,1171.7 C676.6,1179.8 678.6,1187.9 685.6,1187.9" stroke-width="2.6" fill="none" />
<rect x="824.0" y="1152.5" width="22.0" height="40.1" rx="1.5" stroke-width="3" fill="#fefefe"/>
<rect x="846.0" y="1150.6" width="26.7" height="44.9" rx="1.5" stroke-width="3.2" fill="#fefefe"/>
<polygon points="872.7,1151.0 879.4,1153.0 881.0,1172.0 879.4,1194.0 872.7,1195.0" stroke-width="3" fill="#fefefe" stroke-linejoin="round"/>
<polygon points="463.7,1180.1 429.2,1195.1 434.8,1207.9 469.3,1192.9" stroke-width="2.8" fill="#fefefe" stroke-linejoin="round"/>
<polygon points="430.4,1197.5 415.8,1203.5 419.0,1211.5 433.6,1205.5" stroke-width="2.6" fill="#fefefe" stroke-linejoin="round"/>
<polygon points="399.3,1230.1 409.0,1224.8 404.7,1216.9 395.1,1222.1" stroke-width="2.6" fill="#fefefe" stroke-linejoin="round"/>
<polygon points="349.2,1260.7 400.8,1232.7 393.6,1219.5 342.0,1247.5" stroke-width="2.8" fill="#fefefe" stroke-linejoin="round"/>
<line x1="356.6" y1="1249.8" x2="362.8" y2="1248.7" stroke-width="1.5" stroke-linecap="round"/>
<line x1="362.9" y1="1243.0" x2="369.1" y2="1241.9" stroke-width="1.5" stroke-linecap="round"/>
<text transform="translate(332.2,1217.6) scale(0.7275,1)" x="0" y="0" font-family="Liberation Sans" font-size="23" font-weight="400" fill="#3d3d3d" stroke="#3d3d3d" stroke-width="0.8" stroke-linejoin="round" style="letter-spacing:0.00px">W</text>
<polyline points="353.6,1212.0 402.0,1214.4" stroke-width="2.2" fill="none" stroke-linejoin="round"/>
<polygon points="402.0,1214.4 387.8,1218.3 390.0,1213.8 388.2,1209.1" fill="#3d3d3d" stroke="#3d3d3d" stroke-width="1" stroke-linejoin="round"/>
<text transform="translate(405.9,1086.0) scale(0.9500,1)" x="0" y="0" font-family="Liberation Sans" font-size="23" font-weight="400" fill="#3d3d3d" stroke="#3d3d3d" stroke-width="0.8" stroke-linejoin="round" style="letter-spacing:1.70px">1.500&quot;</text>
<line x1="360.0" y1="1075.0" x2="383.0" y2="1035.4" stroke-width="2" stroke-linecap="round"/>
<polyline points="413.8,1064.7 383.0,1044.0" stroke-width="2.2" fill="none" stroke-linejoin="round"/>
<polygon points="383.0,1044.0 397.2,1048.0 393.0,1050.7 392.1,1055.6" fill="#3d3d3d" stroke="#3d3d3d" stroke-width="1" stroke-linejoin="round"/>
<polyline points="465.3,1097.2 497.0,1115.4" stroke-width="2.2" fill="none" stroke-linejoin="round"/>
<polygon points="497.0,1115.4 482.6,1112.4 486.6,1109.4 487.1,1104.4" fill="#3d3d3d" stroke="#3d3d3d" stroke-width="1" stroke-linejoin="round"/>
<line x1="482.8" y1="1144.7" x2="498.6" y2="1114.6" stroke-width="2" stroke-linecap="round"/>
<line x1="292.2" y1="1192.4" x2="292.2" y2="1299.0" stroke-width="2" stroke-linecap="round"/>
<line x1="476.5" y1="1201.0" x2="476.5" y2="1297.0" stroke-width="2" stroke-linecap="round"/>
<polyline points="345.6,1287.7 292.6,1287.7" stroke-width="2.2" fill="none" stroke-linejoin="round"/>
<polygon points="292.6,1287.7 306.6,1283.1 304.6,1287.7 306.6,1292.3" fill="#3d3d3d" stroke="#3d3d3d" stroke-width="1" stroke-linejoin="round"/>
<text transform="translate(356.8,1295.6) scale(0.9500,1)" x="0" y="0" font-family="Liberation Sans" font-size="23" font-weight="400" fill="#3d3d3d" stroke="#3d3d3d" stroke-width="0.8" stroke-linejoin="round" style="letter-spacing:2.40px">6.00&quot;</text>
<polyline points="419.6,1288.0 476.0,1288.0" stroke-width="2.2" fill="none" stroke-linejoin="round"/>
<polygon points="476.0,1288.0 462.0,1292.6 464.0,1288.0 462.0,1283.4" fill="#3d3d3d" stroke="#3d3d3d" stroke-width="1" stroke-linejoin="round"/>
<polyline points="630.0,1216.5 477.0,1216.5" stroke-width="2.2" fill="none" stroke-linejoin="round"/>
<polygon points="477.0,1216.5 491.0,1211.9 489.0,1216.5 491.0,1221.1" fill="#3d3d3d" stroke="#3d3d3d" stroke-width="1" stroke-linejoin="round"/>
<text transform="translate(644.4,1223.2) scale(0.9000,1)" x="0" y="0" font-family="Liberation Sans" font-size="23" font-weight="400" fill="#3d3d3d" stroke="#3d3d3d" stroke-width="0.8" stroke-linejoin="round" style="letter-spacing:4.76px">4 FT</text>
<polyline points="717.0,1218.0 869.8,1218.4" stroke-width="2.2" fill="none" stroke-linejoin="round"/>
<polygon points="869.8,1218.4 855.8,1223.0 857.8,1218.4 855.8,1213.8" fill="#3d3d3d" stroke="#3d3d3d" stroke-width="1" stroke-linejoin="round"/>
<line x1="870.8" y1="1203.0" x2="870.8" y2="1231.8" stroke-width="2" stroke-linecap="round"/>
<text transform="translate(487.8,1252.8) scale(0.8200,1)" x="0" y="0" font-family="Liberation Sans" font-size="23.5" font-weight="400" fill="#3d3d3d" stroke="#3d3d3d" stroke-width="0.8" stroke-linejoin="round" style="letter-spacing:2.64px">(UNLESS OTHERWISE SPECIFIED)</text>
<text transform="translate(244.7,1336.0) scale(0.8000,1)" x="0" y="0" font-family="Liberation Sans" font-size="33" font-weight="400" fill="#3d3d3d" stroke="#3d3d3d" stroke-width="0.45" stroke-linejoin="round" style="letter-spacing:4.52px">LAMP SOCKET END</text>
<text transform="translate(630.7,1366.4) scale(0.9000,1)" x="0" y="0" font-family="Liberation Sans" font-size="40.5" font-weight="400" fill="#3d3d3d" stroke="#3d3d3d" stroke-width="0.45" stroke-linejoin="round" style="letter-spacing:0.79px">M2CP</text>
<polygon points="883.6,1161.8 909.1,1148.3 902.9,1136.7 877.4,1150.2" fill="#fefefe" stroke="none"/>
<line x1="883.6" y1="1161.8" x2="909.1" y2="1148.3" stroke-width="3.3" stroke-linecap="round"/>
<line x1="877.4" y1="1150.2" x2="902.9" y2="1136.7" stroke-width="2.3" stroke-linecap="round"/>
<polyline points="909.1,1148.3 905.6,1145.0 908.2,1141.3 902.9,1136.7" stroke-width="2.3" fill="none" stroke-linejoin="round"/>
<polygon points="957.2,1108.6 934.2,1118.6 939.8,1131.4 962.8,1121.4" stroke-width="2.8" fill="#fefefe" stroke-linejoin="round"/>
<polygon points="935.2,1121.2 918.2,1129.2 921.8,1136.8 938.8,1128.8" stroke-width="2.6" fill="#fefefe" stroke-linejoin="round"/>
<polygon points="963.6,1102.9 986.0,1081.3 1032.6,1054.7 1092.4,1021.5 1094.0,1003.2 1109.0,998.2 1120.0,997.5 1129.7,1013.2 1124.0,1017.0 1128.0,1028.1 1085.7,1054.7 1042.5,1076.3 972.8,1112.9" stroke-width="2.8" fill="#fefefe" stroke-linejoin="round"/>
<line x1="1032.6" y1="1054.7" x2="1042.5" y2="1076.3" stroke-width="2.4" stroke-linecap="round"/>
<line x1="1109.0" y1="998.2" x2="1124.0" y2="1017.0" stroke-width="2" stroke-linecap="round"/>
<path d="M990,1090 L1005,1080 L1015,1077 M995,1100 L1010,1092 L1020,1088" stroke-width="1.5" fill="none" stroke-dasharray="4,3"/>
<polygon points="877.3,1193.8 902.8,1207.8 909.2,1196.2 883.7,1182.2" fill="#fefefe" stroke="none"/>
<line x1="877.3" y1="1193.8" x2="902.8" y2="1207.8" stroke-width="3.3" stroke-linecap="round"/>
<line x1="883.7" y1="1182.2" x2="909.2" y2="1196.2" stroke-width="2.3" stroke-linecap="round"/>
<polyline points="902.8,1207.8 903.7,1203.0 908.2,1203.2 909.2,1196.2" stroke-width="2.3" fill="none" stroke-linejoin="round"/>
<polygon points="971.5,1229.9 941.5,1212.9 934.5,1225.1 964.5,1242.1" stroke-width="2.8" fill="#fefefe" stroke-linejoin="round"/>
<polygon points="939.9,1215.3 926.4,1208.3 922.6,1215.7 936.1,1222.7" stroke-width="2.6" fill="#fefefe" stroke-linejoin="round"/>
<polygon points="978.5,1236.3 1001.0,1245.5 1045.8,1269.6 1122.2,1301.1 1135.5,1312.8 1142.0,1325.0 1118.9,1341.8 1036.6,1293.7 992.6,1266.2 971.0,1248.8" stroke-width="2.8" fill="#fefefe" stroke-linejoin="round"/>
<line x1="1045.8" y1="1269.6" x2="1036.6" y2="1293.7" stroke-width="2.4" stroke-linecap="round"/>
<path d="M1096,1284 C1105,1288 1112,1294 1118,1302" stroke-width="3.2" fill="none" />
<circle cx="1112" cy="1308" r="4.5" stroke-width="2.2" fill="#fefefe"/>
<rect x="1128.0" y="1321.0" width="13.0" height="13.0" rx="1.5" stroke-width="2.2" fill="#fefefe"/>
<text transform="translate(986.8,1205.6) scale(0.7275,1)" x="0" y="0" font-family="Liberation Sans" font-size="23" font-weight="400" fill="#3d3d3d" stroke="#3d3d3d" stroke-width="0.8" stroke-linejoin="round" style="letter-spacing:0.00px">W</text>
<polyline points="980.2,1198.1 939.5,1213.1" stroke-width="2.2" fill="none" stroke-linejoin="round"/>
<polygon points="939.5,1213.1 951.0,1203.9 950.8,1209.0 954.2,1212.6" fill="#3d3d3d" stroke="#3d3d3d" stroke-width="1" stroke-linejoin="round"/>
<text transform="translate(942.9,1171.8) scale(0.6931,1)" x="0" y="0" font-family="Liberation Sans" font-size="23" font-weight="400" fill="#3d3d3d" stroke="#3d3d3d" stroke-width="0.8" stroke-linejoin="round" style="letter-spacing:0.00px">G</text>
<polyline points="934.6,1162.7 903.0,1151.0" stroke-width="2.2" fill="none" stroke-linejoin="round"/>
<polygon points="903.0,1151.0 917.7,1151.5 914.3,1155.2 914.5,1160.2" fill="#3d3d3d" stroke="#3d3d3d" stroke-width="1" stroke-linejoin="round"/>
<text transform="translate(820.8,1012.4) scale(0.9000,1)" x="0" y="0" font-family="Liberation Sans" font-size="23" font-weight="400" fill="#3d3d3d" stroke="#3d3d3d" stroke-width="0.8" stroke-linejoin="round" style="letter-spacing:1.81px">NO. 59 CORD TIP</text>
<polyline points="1019.3,1008.2 1069.1,1014.0" stroke-width="2.2" fill="none" stroke-linejoin="round"/>
<polygon points="1069.1,1014.0 1054.7,1016.9 1057.2,1012.6 1055.7,1007.8" fill="#3d3d3d" stroke="#3d3d3d" stroke-width="1" stroke-linejoin="round"/>
<text transform="translate(908.0,1080.5) scale(0.9500,1)" x="0" y="0" font-family="Liberation Sans" font-size="23" font-weight="400" fill="#3d3d3d" stroke="#3d3d3d" stroke-width="0.8" stroke-linejoin="round" style="letter-spacing:3.65px">24&quot;</text>
<polyline points="953.7,1055.5 991.0,1032.3" stroke-width="2.2" fill="none" stroke-linejoin="round"/>
<polygon points="991.0,1032.3 981.5,1043.6 980.8,1038.6 976.7,1035.8" fill="#3d3d3d" stroke="#3d3d3d" stroke-width="1" stroke-linejoin="round"/>
<line x1="991.0" y1="1027.3" x2="1010.0" y2="1059.7" stroke-width="2" stroke-linecap="round"/>
<polyline points="894.7,1088.8 849.8,1114.5" stroke-width="2.2" fill="none" stroke-linejoin="round"/>
<polygon points="849.8,1114.5 859.7,1103.6 860.2,1108.5 864.2,1111.5" fill="#3d3d3d" stroke="#3d3d3d" stroke-width="1" stroke-linejoin="round"/>
<line x1="846.5" y1="1108.7" x2="866.4" y2="1144.4" stroke-width="2" stroke-linecap="round"/>
<line x1="1064.0" y1="1018.5" x2="1091.6" y2="1005.6" stroke-width="4.5" stroke-linecap="round"/>
<circle cx="1093" cy="1017" r="4.5" stroke-width="2.4" fill="#fefefe"/>
<text transform="translate(1134.2,1095.2) scale(1.0500,1)" x="0" y="0" font-family="Liberation Sans" font-size="23" font-weight="400" fill="#3d3d3d" stroke="#3d3d3d" stroke-width="0.8" stroke-linejoin="round" style="letter-spacing:1.25px">P-17E484</text>
<text transform="translate(1134.8,1122.0) scale(0.9000,1)" x="0" y="0" font-family="Liberation Sans" font-size="23" font-weight="400" fill="#3d3d3d" stroke="#3d3d3d" stroke-width="0.8" stroke-linejoin="round" style="letter-spacing:1.14px">CORD TIP</text>
<polyline points="1122.3,1080.5 1087.4,1054.7" stroke-width="2.2" fill="none" stroke-linejoin="round"/>
<polygon points="1087.4,1054.7 1101.4,1059.3 1097.0,1061.8 1095.9,1066.7" fill="#3d3d3d" stroke="#3d3d3d" stroke-width="1" stroke-linejoin="round"/>
<text transform="translate(1055.0,1162.7) scale(1.0500,1)" x="0" y="0" font-family="Liberation Sans" font-size="23" font-weight="400" fill="#3d3d3d" stroke="#3d3d3d" stroke-width="0.8" stroke-linejoin="round" style="letter-spacing:2.02px">P-482046</text>
<text transform="translate(1056.6,1189.0) scale(0.9000,1)" x="0" y="0" font-family="Liberation Sans" font-size="23" font-weight="400" fill="#3d3d3d" stroke="#3d3d3d" stroke-width="0.8" stroke-linejoin="round" style="letter-spacing:1.77px">CORD TIP</text>
<polyline points="1045.0,1148.6 987.7,1107.9" stroke-width="2.2" fill="none" stroke-linejoin="round"/>
<polygon points="987.7,1107.9 1001.8,1112.3 997.5,1114.8 996.4,1119.8" fill="#3d3d3d" stroke="#3d3d3d" stroke-width="1" stroke-linejoin="round"/>
<text transform="translate(804.9,1340.2) scale(0.8000,1)" x="0" y="0" font-family="Liberation Sans" font-size="34" font-weight="400" fill="#3d3d3d" stroke="#3d3d3d" stroke-width="0.45" stroke-linejoin="round" style="letter-spacing:4.79px">TEST CLIP END</text>
<circle cx="1224.6" cy="691.7" r="1.1" fill="#555" stroke="none"/>
<circle cx="2264.3" cy="1275.5" r="1.3" fill="#444" stroke="none"/>
</g>
</svg>
<div class="t" style="left:100.0px;top:101.7px;font-size:38px;font-weight:700;letter-spacing:0.00px;word-spacing:0.00px;transform:rotate(0.1deg) scaleX(1.0029)">FEBRUARY</div>
<div class="t" style="left:331.6px;top:101.7px;font-size:38px;font-weight:700;letter-spacing:0.00px;word-spacing:0.00px;transform:rotate(0.1deg) scaleX(0.9453)">28,</div>
<div class="t" style="left:393.9px;top:101.7px;font-size:38px;font-weight:700;letter-spacing:0.00px;word-spacing:0.00px;transform:rotate(0.1deg) scaleX(0.9250)">1975</div>
<div class="t" style="left:826.0px;top:93.9px;font-size:55px;font-weight:700;letter-spacing:0.00px;word-spacing:0.00px;transform:rotate(0.1deg) scaleX(0.8849)">M2CK-9,</div>
<div class="t" style="left:1051.8px;top:93.9px;font-size:55px;font-weight:700;letter-spacing:0.00px;word-spacing:0.00px;transform:rotate(0.1deg) scaleX(0.8991)">M2CN,</div>
<div class="t" style="left:1235.7px;top:93.9px;font-size:55px;font-weight:700;letter-spacing:0.00px;word-spacing:0.00px;transform:rotate(0.1deg) scaleX(0.8139)">&amp;</div>
<div class="t" style="left:1301.8px;top:93.9px;font-size:55px;font-weight:700;letter-spacing:0.00px;word-spacing:0.00px;transform:rotate(0.1deg) scaleX(0.8885)">M2CP</div>
<div class="t" style="left:1466.0px;top:93.9px;font-size:55px;font-weight:700;letter-spacing:0.00px;word-spacing:0.00px;transform:rotate(0.1deg) scaleX(0.9276)">CORDS</div>
<div class="t" style="left:2052.3px;top:82.2px;font-size:38.5px;font-weight:700;letter-spacing:0.00px;word-spacing:0.00px;transform:rotate(0.1deg) scaleX(1.0429)">SEE</div>
<div class="t" style="left:2147.3px;top:82.2px;font-size:38.5px;font-weight:700;letter-spacing:0.00px;word-spacing:0.00px;transform:rotate(0.1deg) scaleX(1.0065)">RATINGS</div>
<div class="t" style="left:2116.0px;top:125.2px;font-size:38.5px;font-weight:700;letter-spacing:0.00px;word-spacing:0.00px;transform:rotate(0.1deg) scaleX(0.9554)">BELOW</div>
<div class="t" style="left:1351.0px;top:251.3px;font-size:37.8px;font-weight:400;letter-spacing:1.10px;word-spacing:-0.87px">Two-conductor textile-covered cords.</div>
<div class="t" style="left:1351.0px;top:295.6px;font-size:37.8px;font-weight:400;letter-spacing:1.10px;word-spacing:15.14px">M2CK-9: Tinsel PVC conductors having waterproof in-</div>
<div class="t" style="left:1462.0px;top:328.3px;font-size:37.8px;font-weight:400;letter-spacing:1.10px;word-spacing:0.00px">sulation.</div>
<div class="t" style="left:1406.0px;top:370.8px;font-size:37.8px;font-weight:400;letter-spacing:1.10px;word-spacing:1.73px">Intended for use with No. 15A, B, and C type and 21A-3</div>
<div class="t" style="left:1462.0px;top:403.3px;font-size:37.8px;font-weight:400;letter-spacing:1.10px;word-spacing:0.00px">Indicators.</div>
<div class="t" style="left:1351.0px;top:447.3px;font-size:37.8px;font-weight:400;letter-spacing:1.10px;word-spacing:9.70px">M2CN: Tinsel PVC conductors having waterproof insula-</div>
<div class="t" style="left:1462.0px;top:479.8px;font-size:37.8px;font-weight:400;letter-spacing:1.10px;word-spacing:0.00px">tion.</div>
<div class="t" style="left:1406.0px;top:523.6px;font-size:37.8px;font-weight:400;letter-spacing:1.10px;word-spacing:8.67px">Arranged for tip and sleeve connections of a No. 347</div>
<div class="t" style="left:1462.0px;top:556.3px;font-size:37.8px;font-weight:400;letter-spacing:1.10px;word-spacing:0.00px">Plug.</div>
<div class="t" style="left:1406.0px;top:599.8px;font-size:37.8px;font-weight:400;letter-spacing:1.10px;word-spacing:11.28px">Intended for use with No. 14 and 15 Type Teletype-</div>
<div class="t" style="left:1462.0px;top:632.3px;font-size:37.8px;font-weight:400;letter-spacing:1.10px;word-spacing:0.00px">writers.</div>
<div class="t" style="left:1351.0px;top:674.8px;font-size:37.8px;font-weight:400;letter-spacing:1.10px;word-spacing:2.40px">M2CP: Tinsel conductors.</div>
<div class="t" style="left:1406.0px;top:718.3px;font-size:37.8px;font-weight:400;letter-spacing:1.10px;word-spacing:6.23px">Intended for use as a part of No. 38B Lamp Socket.</div>
<div class="t" style="left:1349.0px;top:795.6px;font-size:37.5px;font-weight:400;letter-spacing:-0.39px;word-spacing:0.00px">Code</div>
<div class="t" style="left:1605.0px;top:796.6px;font-size:37.5px;font-weight:400;letter-spacing:0.14px;word-spacing:0.00px">Color</div>
<div class="t" style="left:1872.0px;top:796.6px;font-size:37.5px;font-weight:400;letter-spacing:1.23px;word-spacing:0.00px">Replaces</div>
<div class="t" style="left:2153.0px;top:797.1px;font-size:37.5px;font-weight:400;letter-spacing:2.60px;word-spacing:0.00px">Rating</div>
<div class="t" style="left:1354.0px;top:887.8px;font-size:37.5px;font-weight:400;letter-spacing:-0.09px;word-spacing:0.00px">M2CK-9</div>
<div class="t" style="left:1611.0px;top:887.8px;font-size:37.5px;font-weight:400;letter-spacing:0.98px;word-spacing:0.00px">Brown</div>
<div class="t" style="left:1868.0px;top:855.6px;font-size:37.5px;font-weight:400;letter-spacing:1.36px;word-spacing:0.00px">M2BF-9</div>
<div class="t" style="left:1868.0px;top:889.6px;font-size:37.5px;font-weight:400;letter-spacing:1.01px;word-spacing:0.00px">M2BF-10</div>
<div class="t" style="left:1868.0px;top:921.6px;font-size:37.5px;font-weight:400;letter-spacing:-0.03px;word-spacing:0.00px">M2CK-10</div>
<div class="t" style="left:2083.0px;top:889.6px;font-size:37.5px;font-weight:400;letter-spacing:0.99px;word-spacing:0.00px">A.T.&amp;T.Co.Std.</div>
<div class="t" style="left:1354.0px;top:955.6px;font-size:37.5px;font-weight:400;letter-spacing:-0.40px;word-spacing:0.00px">M2CN</div>
<div class="t" style="left:1557.0px;top:955.6px;font-size:37.5px;font-weight:400;letter-spacing:1.63px;word-spacing:0.00px">(b)</div>
<div class="t" style="left:1611.0px;top:955.6px;font-size:37.5px;font-weight:400;letter-spacing:1.21px;word-spacing:0.00px">Brown nylon</div>
<div class="t" style="left:1895.0px;top:956.6px;font-size:37.5px;font-weight:400;letter-spacing:0.33px;word-spacing:0.00px">M2BL</div>
<div class="t" style="left:2158.0px;top:957.5px;font-size:40px;font-weight:400;letter-spacing:1.10px;word-spacing:0.00px">“</div>
<div class="t" style="left:2289.0px;top:957.5px;font-size:40px;font-weight:400;letter-spacing:1.10px;word-spacing:0.00px">“</div>
<div class="t" style="left:1354.0px;top:989.6px;font-size:37.5px;font-weight:400;letter-spacing:0.68px;word-spacing:0.00px">M2CP</div>
<div class="t" style="left:1611.0px;top:989.6px;font-size:37.5px;font-weight:400;letter-spacing:1.21px;word-spacing:0.00px">Brown nylon</div>
<div class="t" style="left:1885.0px;top:990.6px;font-size:37.5px;font-weight:400;letter-spacing:0.03px;word-spacing:0.00px">No. 802</div>
<div class="t" style="left:2157.0px;top:991.5px;font-size:40px;font-weight:400;letter-spacing:1.10px;word-spacing:0.00px">“</div>
<div class="t" style="left:2288.0px;top:991.5px;font-size:40px;font-weight:400;letter-spacing:1.10px;word-spacing:0.00px">“</div>
<div class="t" style="left:1350.0px;top:1045.8px;font-size:37.8px;font-weight:400;letter-spacing:0.96px;word-spacing:0.00px">(*)</div>
<div class="t" style="left:1422.0px;top:1046.1px;font-size:37.8px;font-weight:400;letter-spacing:1.10px;word-spacing:6.32px">1 foot 6 inches, 6 foot and 10 foot cords can also be</div>
<div class="t" style="left:1476.0px;top:1081.3px;font-size:37.8px;font-weight:400;letter-spacing:0.79px;word-spacing:0.00px">obtained when specified.</div>
<div class="t" style="left:1350.0px;top:1116.3px;font-size:37.8px;font-weight:400;letter-spacing:0.96px;word-spacing:0.00px">(b)</div>
<div class="t" style="left:1423.0px;top:1116.3px;font-size:37.8px;font-weight:400;letter-spacing:1.10px;word-spacing:-1.64px">Black can also be obtained when specified.</div>
<div class="t" style="left:934.3px;top:1462.6px;font-size:28.5px;font-weight:700;letter-spacing:0.00px;word-spacing:0.00px;transform:rotate(0.1deg) scaleX(1.0756)">Property</div>
<div class="t" style="left:1060.5px;top:1462.6px;font-size:28.5px;font-weight:700;letter-spacing:0.00px;word-spacing:0.00px;transform:rotate(0.1deg) scaleX(1.0737)">of</div>
<div class="t" style="left:1097.0px;top:1462.6px;font-size:28.5px;font-weight:700;letter-spacing:0.00px;word-spacing:0.00px;transform:rotate(0.1deg) scaleX(1.0526)">the</div>
<div class="t" style="left:1146.5px;top:1462.6px;font-size:28.5px;font-weight:700;letter-spacing:0.00px;word-spacing:0.00px;transform:rotate(0.1deg) scaleX(1.0680)">Western</div>
<div class="t" style="left:1265.7px;top:1462.6px;font-size:28.5px;font-weight:700;letter-spacing:0.00px;word-spacing:0.00px;transform:rotate(0.1deg) scaleX(1.0839)">Electric</div>
<div class="t" style="left:1378.2px;top:1462.6px;font-size:28.5px;font-weight:700;letter-spacing:0.00px;word-spacing:0.00px;transform:rotate(0.1deg) scaleX(1.0408)">Company,</div>
<div class="t" style="left:1519.2px;top:1462.6px;font-size:28.5px;font-weight:700;letter-spacing:0.00px;word-spacing:0.00px;transform:rotate(0.1deg) scaleX(1.0574)">Inc.</div>
<div class="t" style="left:2104.0px;top:1464.1px;font-size:28.5px;font-weight:700;letter-spacing:0.50px;word-spacing:7.38px">Printed in U.S.A.</div>
</body></html>
